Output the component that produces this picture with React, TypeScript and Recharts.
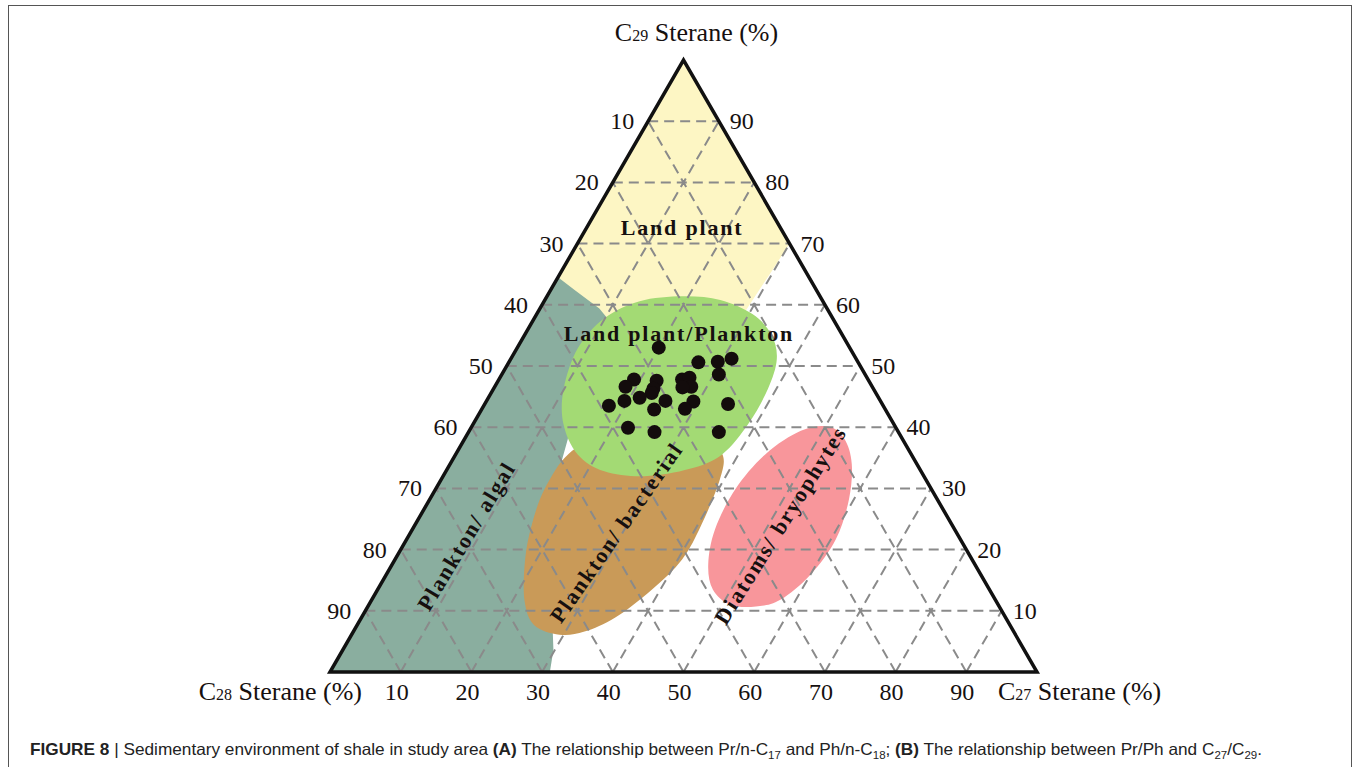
import React from 'react';
import { ScatterChart, Scatter, XAxis, YAxis } from 'recharts';

const H = Math.sqrt(3) / 2;
const SERIF = "'Liberation Serif', 'Times New Roman', serif";
const INK = '#16100f';

// measured samples: C27 % and C29 % (C28 is the rest)
const sampleC27 = [20.0, 26.8, 29.5, 31.2, 30.7, 19.1, 18.5, 22.4, 22.6, 22.7, 25.9, 26.8, 27.8, 26.6, 21.4, 19.5, 17.7, 25.3, 24.4, 29.3, 28.7, 34.4, 22.2, 26.3, 35.4];
const sampleC29 = [53.0, 50.6, 50.7, 51.2, 48.6, 47.8, 46.6, 47.6, 46.3, 45.6, 47.8, 48.1, 46.6, 46.5, 44.8, 44.3, 43.5, 44.3, 42.9, 44.2, 43.0, 43.8, 39.9, 39.2, 39.2];

const gridSteps = [10, 20, 30, 40, 50, 60, 70, 80, 90];

// field outlines as [C27 %, C29 %]
const landPlantField = [[0, 100], [30, 70], [29.7, 65], [29.4, 61], [29, 55], [20, 55], [10, 55], [0, 60]];
const algalField = [[0, 64.5], [3.4, 62.4], [8.4, 59.4], [11.3, 57], [9.7, 51.2], [11.6, 44.7], [14.6, 38.1], [16.3, 31.5], [21.6, 20], [27.2, 8.5], [29.8, 3.6], [31.1, 0], [0, 0]];
const bacterialField = [[15.9, 35.6], [19.4, 38.1], [27.3, 36.5], [33.6, 38.1], [37.7, 35.6], [39.4, 31.5], [40.5, 24.1], [40.6, 18.4], [38.8, 13.5], [35.9, 8.9], [32.7, 6.6], [29.4, 6.1], [25.0, 7.7], [21.6, 11.8], [18.4, 18.4], [16.5, 24.1], [15.4, 29.9]];
const landPlanktonField = [[19.2, 61.4], [24.8, 60.8], [30.5, 58.5], [34.8, 55.2], [37.6, 51.2], [38.8, 46.3], [38.9, 40.6], [37.7, 35.6], [34.3, 33.2], [28.5, 32.0], [22.4, 32.8], [17.2, 35.6], [12.7, 40.6], [9.9, 46.3], [8.6, 52.9], [9.9, 57.8], [13.5, 60.6]];
const diatomField = [[50.4, 40.1], [53.7, 38.1], [56.8, 34.0], [59.3, 28.2], [60.7, 21.7], [60.0, 15.9], [57.8, 11.8], [54.9, 10.7], [51.1, 11.0], [47.4, 13.5], [44.7, 17.6], [42.8, 23.3], [42.4, 29.9], [43.8, 35.6], [46.9, 39.4]];

const fieldNames = ['Land plant', 'Land plant/Plankton', 'Plankton/ algal', 'Plankton/ bacterial', 'Diatoms/ bryophytes'];

const toXY = (c27: number, c29: number) => ({ x: c27 + c29 / 2, y: c29 * H });

const samples = sampleC27.map((c, i) => toXY(c, sampleC29[i]));
const outline = (f: number[][]) => f.map(([a, b]) => toXY(a, b));

const gridSegs = gridSteps.flatMap((v) => [
  toXY(0, v), toXY(100 - v, v),
  toXY(v, 0), toXY(v, 100 - v),
  toXY(100 - v, 0), toXY(0, 100 - v),
]);
const frame = [toXY(0, 0), toXY(100, 0), toXY(0, 100)];

const leftTicks = gridSteps.map((v) => ({ ...toXY(0, 100 - v), label: v }));
const rightTicks = gridSteps.map((v) => ({ ...toXY(100 - v, v), label: v }));
const bottomTicks = gridSteps.map((v) => ({ ...toXY(v, 0), label: v }));

// where each field name sits, with its rotation
const labelSpots = [
  { c27: 13.5, c29: 72.6, angle: 0 },
  { c27: 21.7, c29: 55.3, angle: 0 },
  { c27: 8.2, c29: 22.2, angle: -59 },
  { c27: 29.1, c29: 22.8, angle: -55 },
  { c27: 51.7, c29: 24.0, angle: -58 },
];
const fieldLabels = fieldNames.map((name, i) => ({ ...toXY(labelSpots[i].c27, labelSpots[i].c29), label: name, angle: labelSpots[i].angle }));

const pathOf = (p: any[], smooth: boolean) => {
  const n = p.length;
  if (!smooth) return 'M' + p.map((q) => `${q.x},${q.y}`).join('L') + 'Z';
  let d = `M${p[0].x},${p[0].y}`;
  for (let i = 0; i < n; i++) {
    const p0 = p[(i - 1 + n) % n], p1 = p[i], p2 = p[(i + 1) % n], p3 = p[(i + 2) % n];
    const c1x = p1.x + (p2.x - p0.x) / 6, c1y = p1.y + (p2.y - p0.y) / 6;
    const c2x = p2.x - (p3.x - p1.x) / 6, c2y = p2.y - (p3.y - p1.y) / 6;
    d += `C${c1x},${c1y} ${c2x},${c2y} ${p2.x},${p2.y}`;
  }
  return d + 'Z';
};

const area = (fill: string, smooth: boolean) => (props: any) => <path d={pathOf(props.points, smooth)} fill={fill} stroke="none" />;

const gridLine = (props: any) => {
  const p = props.points;
  let d = '';
  for (let i = 0; i + 1 < p.length; i += 2) d += `M${p[i].x},${p[i].y}L${p[i + 1].x},${p[i + 1].y}`;
  return <path d={d} fill="none" stroke="#8a8a8a" strokeWidth={2} strokeDasharray="10 6" />;
};

const frameLine = (props: any) => <path d={pathOf(props.points, false)} fill="none" stroke="#111" strokeWidth={3.5} strokeLinejoin="miter" />;

const none = () => <g />;

const tickText = (dx: number, dy: number, anchor: string) => (p: any) => (
  <text x={p.cx + dx} y={p.cy + dy} textAnchor={anchor} fontSize={24} fontFamily={SERIF} fill={INK}>{p.payload.label}</text>
);

const fieldText = (p: any) => (
  <text x={p.cx} y={p.cy} transform={`rotate(${p.payload.angle} ${p.cx} ${p.cy})`} textAnchor="middle" dominantBaseline="central"
    fontSize={22} fontWeight="bold" letterSpacing={1.8} fontFamily={SERIF} fill={INK}>{p.payload.label}</text>
);

const vertexTitle = (p: any) => {
  const i = p.index;
  const sub = ['28', '27', '29'][i];
  const pos = [
    { x: p.cx + 32, y: p.cy + 28, a: 'end' },
    { x: p.cx - 39, y: p.cy + 28, a: 'start' },
    { x: p.cx + 13, y: p.cy - 19, a: 'middle' },
  ][i];
  return (
    <text x={pos.x} y={pos.y} textAnchor={pos.a} fontSize={26} fontFamily={SERIF} fill={INK}>
      C<tspan fontSize={16}>{sub}</tspan> Sterane (%)
    </text>
  );
};

const dot = (p: any) => <circle cx={p.cx} cy={p.cy} r={7} fill="#130c0c" />;

export default function App() {
  return (
    <div style={{ position: 'absolute', left: 0, top: 0, width: 1356, height: 767, background: '#fff', overflow: 'hidden' }}>
      <div style={{ position: 'absolute', left: 8, top: 5, width: 1344, height: 800, border: '1.5px solid #555', boxSizing: 'border-box' }} />
      <div style={{ position: 'absolute', left: 0, top: 0 }}>
        <ScatterChart width={1356} height={767} margin={{ top: 60, right: 319, bottom: 95, left: 330 }}>
          <XAxis type="number" dataKey="x" domain={[0, 100]} hide />
          <YAxis type="number" dataKey="y" domain={[0, 100 * H]} hide width={0} />
          <Scatter data={outline(landPlantField)} line={area('#fdf6c4', false)} shape={none} isAnimationActive={false} />
          <Scatter data={outline(algalField)} line={area('#8aae9f', false)} shape={none} isAnimationActive={false} />
          <Scatter data={outline(bacterialField)} line={area('#c99a58', true)} shape={none} isAnimationActive={false} />
          <Scatter data={outline(landPlanktonField)} line={area('#a3da74', true)} shape={none} isAnimationActive={false} />
          <Scatter data={outline(diatomField)} line={area('#f8969b', true)} shape={none} isAnimationActive={false} />
          <Scatter data={gridSegs} line={gridLine} shape={none} isAnimationActive={false} />
          <Scatter data={frame} line={frameLine} shape={none} isAnimationActive={false} />
          <Scatter data={samples} shape={dot} isAnimationActive={false} />
          <Scatter data={leftTicks} shape={tickText(-14, 8, 'end')} isAnimationActive={false} />
          <Scatter data={rightTicks} shape={tickText(11, 8, 'start')} isAnimationActive={false} />
          <Scatter data={bottomTicks} shape={tickText(-4, 28, 'middle')} isAnimationActive={false} />
          <Scatter data={frame} shape={vertexTitle} isAnimationActive={false} />
          <Scatter data={fieldLabels} shape={fieldText} isAnimationActive={false} />
        </ScatterChart>
      </div>
      <svg width={1356} height={767} style={{ position: 'absolute', left: 0, top: 0, pointerEvents: 'none' }}>
        <text x={30} y={755} fontSize={16.5} fontFamily="'Liberation Sans', Arial, sans-serif" fill="#222" textLength={1232} lengthAdjust="spacingAndGlyphs">
          <tspan fontWeight="bold">FIGURE 8</tspan> | Sedimentary environment of shale in study area <tspan fontWeight="bold">(A)</tspan> The relationship between Pr/n-C<tspan fontSize={11} dy={4}>17</tspan><tspan dy={-4}> and Ph/n-C</tspan><tspan fontSize={11} dy={4}>18</tspan><tspan dy={-4}>; </tspan><tspan fontWeight="bold">(B)</tspan> The relationship between Pr/Ph and C<tspan fontSize={11} dy={4}>27</tspan><tspan dy={-4}>/C</tspan><tspan fontSize={11} dy={4}>29</tspan><tspan dy={-4}>.</tspan>
        </text>
      </svg>
    </div>
  );
}
